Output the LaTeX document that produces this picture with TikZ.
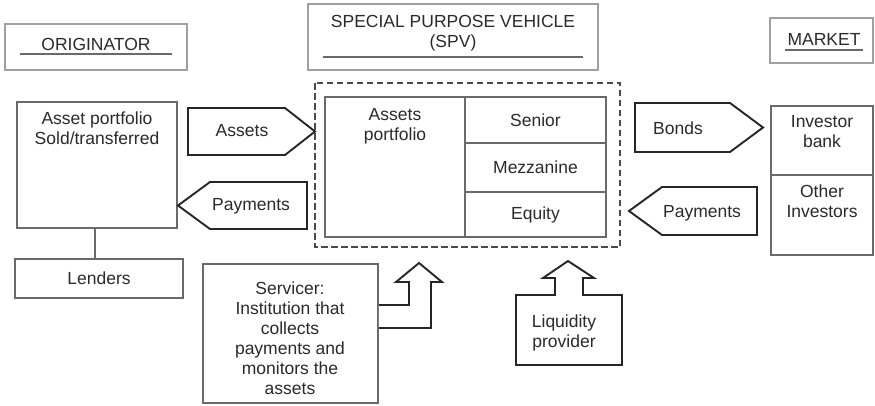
\documentclass[tikz,border=0pt]{standalone}
\usepackage{fontspec}
\setmainfont{Liberation Sans}
\definecolor{txt}{HTML}{2A2A2A}
\definecolor{titlegray}{HTML}{A0A0A0}
\definecolor{boxgray}{HTML}{6A6A6A}
\definecolor{arrowdark}{HTML}{262626}
\definecolor{dashgray}{HTML}{4A4A4A}
\begin{document}
\begin{tikzpicture}[x=1pt,y=-1pt,
  font=\fontsize{17.5}{20}\selectfont, text=txt,
  titlebox/.style={draw=titlegray, line width=1.4pt, fill=white, inner sep=0pt},
  uline/.style={draw=boxgray, line width=1.6pt},
  box/.style={draw=boxgray, line width=1.6pt, fill=white, inner sep=0pt, align=center},
  cell/.style={draw=boxgray, line width=1.9pt, inner sep=0pt, align=center},
  blockarrow/.style={draw=arrowdark, line width=1.9pt, line join=miter, fill=white},
  lbl/.style={inner sep=0pt, align=center}]
\useasboundingbox (0,0) rectangle (875,405);
\fill[white] (0,0) rectangle (875,405);

% title boxes
\node[titlebox, minimum width=182pt, minimum height=46pt] (origbox) at (96,47) {};
\node[lbl] (origtxt) at (96,44) {ORIGINATOR};
\coordinate (ou1) at (20,54); \coordinate (ou2) at (172,54);
\draw[uline] (ou1) -- (ou2);

\node[titlebox, minimum width=290pt, minimum height=66pt] (spvbox) at (453,37) {};
\node[lbl] (spvtxt) at (453,33) {SPECIAL PURPOSE VEHICLE\\(SPV)};
\coordinate (su1) at (323,57); \coordinate (su2) at (583,57);
\draw[uline] (su1) -- (su2);

\node[titlebox, minimum width=103pt, minimum height=45pt] (mktbox) at (821.5,40.5) {};
\node[lbl] (mkttxt) at (824,39) {MARKET};
\coordinate (mu1) at (785,50); \coordinate (mu2) at (863,50);
\draw[uline] (mu1) -- (mu2);

% originator side
\node[box, minimum width=160pt, minimum height=126pt] (ap) at (97,165) {};
\node[lbl, anchor=north] (aptxt) at (97,112) {Asset portfolio\\Sold/transferred};
\node[box, minimum width=168pt, minimum height=39pt] (lenders) at (99,278.5) {Lenders};
\draw[draw=boxgray, line width=1.6pt] (lenders.north -| 95,0) -- (ap.south -| 95,0);

% block arrows left
\draw[blockarrow] (188,108) -- (285,108) -- (315,131.5) -- (285,155) -- (188,155) -- cycle;
\node[lbl] (assets) at (242,131) {Assets};
\draw[blockarrow] (307,182) -- (210,182) -- (178,205.5) -- (210,229) -- (307,229) -- cycle;
\node[lbl] (pay1) at (251,206) {Payments};

% SPV dashed box
\draw[draw=dashgray, line width=1.9pt, dash pattern=on 6.5pt off 3.5pt] (315,83) rectangle (620,247);
\node[cell, minimum width=140pt, minimum height=140pt] (apcell) at (395,167) {};
\node[lbl, anchor=north] (apcelltxt) at (395,108) {Assets\\portfolio};
\node[cell, minimum width=141pt, minimum height=46pt] (senior) at (535.5,120) {Senior};
\node[cell, minimum width=141pt, minimum height=49pt] (mezz) at (535.5,167.5) {Mezzanine};
\node[cell, minimum width=141pt, minimum height=45pt] (equity) at (535.5,214.5) {Equity};

% block arrows right
\draw[blockarrow] (635,103) -- (730,103) -- (763,127.5) -- (730,152) -- (635,152) -- cycle;
\node[lbl] (bonds) at (678,128) {Bonds};
\draw[blockarrow] (757,187) -- (662,187) -- (629,211) -- (662,235) -- (757,235) -- cycle;
\node[lbl] (pay2) at (702,213) {Payments};

% market
\node[box, minimum width=102pt, minimum height=69pt] (invbank) at (822,140.5) {};
\node[lbl, anchor=north] (invbanktxt) at (822,115) {Investor\\bank};
\node[box, minimum width=102pt, minimum height=80pt] (other) at (822,215) {};
\node[lbl, anchor=north] (othertxt) at (822,185) {Other\\Investors};

% servicer
\node[box, minimum width=175pt, minimum height=139pt] (serv) at (290.5,333.5) {};
\node[lbl] (servtxt) at (290,338) {Servicer:\\Institution that\\collects\\payments and\\monitors the\\assets};
\draw[blockarrow] (serv.east |- 0,305) -- (409,305) -- (409,282) -- (396,282) -- (419,263)
  -- (442,282) -- (431,282) -- (431,328) -- (serv.east |- 0,328);

% liquidity provider
\draw[blockarrow] (516,295) -- (555,295) -- (555,278) -- (543,278) -- (568,261) -- (594,278)
  -- (583,278) -- (583,295) -- (622,295) -- (622,365) -- (516,365) -- cycle;
\node[lbl] (liq) at (564,333) {Liquidity\\provider};
\end{tikzpicture}
\end{document}
